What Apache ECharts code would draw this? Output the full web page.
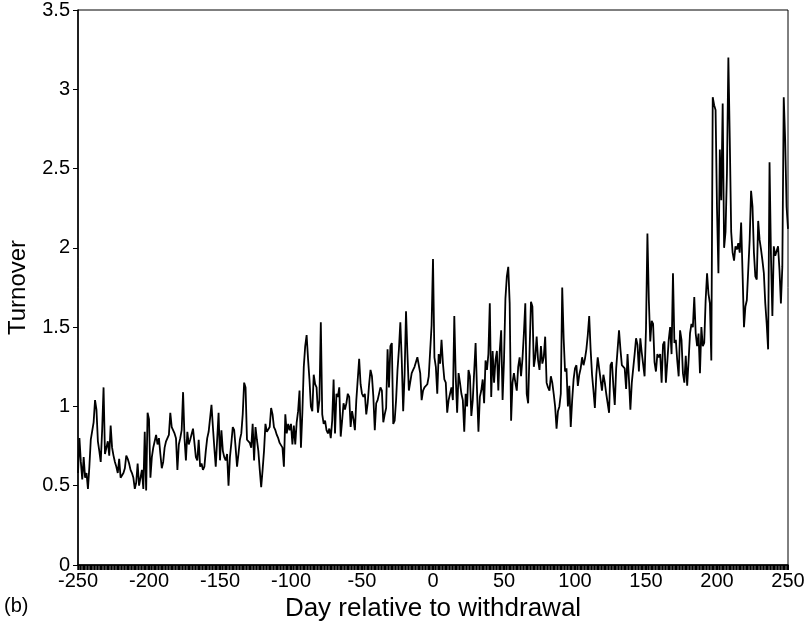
<!DOCTYPE html>
<html>
<head>
<meta charset="utf-8">
<script src="https://cdn.jsdelivr.net/npm/echarts@6/dist/echarts.min.js"></script>
<style>html,body{margin:0;padding:0;background:#fff}#c{width:810px;height:627px}</style>
</head>
<body>
<div id="c"></div>
<script>
// Day relative to withdrawal: first day
var firstDay = -250;
var xTicks = [-250, -200, -150, -100, -50, 0, 50, 100, 150, 200, 250];
var yTicks = [0, 0.5, 1, 1.5, 2, 2.5, 3, 3.5];
// Daily turnover, days -250 .. 250
var turnover = [
/* -250 */ 0.58,0.80,0.65,0.54,0.68,0.55,0.58,0.48,0.62,0.79,
/* -240 */ 0.78,0.90,1.04,0.98,0.78,0.72,0.65,0.85,1.12,0.70,
/* -230 */ 0.74,0.78,0.69,0.88,0.74,0.69,0.65,0.62,0.58,0.67,
/* -220 */ 0.55,0.54,0.58,0.61,0.69,0.67,0.64,0.60,0.58,0.55,
/* -210 */ 0.48,0.52,0.64,0.50,0.55,0.60,0.48,0.84,0.47,0.96,
/* -200 */ 0.92,0.55,0.68,0.74,0.74,0.82,0.76,0.80,0.70,0.61,
/* -190 */ 0.65,0.74,0.78,0.77,0.82,0.96,0.87,0.86,0.83,0.80,
/* -180 */ 0.60,0.76,0.80,0.85,1.09,0.80,0.66,0.84,0.76,0.79,
/* -170 */ 0.79,0.86,0.85,0.68,0.66,0.79,0.62,0.64,0.60,0.62,
/* -160 */ 0.72,0.80,0.84,0.85,1.01,0.87,0.74,0.62,0.79,0.96,
/* -150 */ 0.66,0.85,0.72,0.68,0.66,0.70,0.50,0.68,0.77,0.87,
/* -140 */ 0.85,0.74,0.62,0.70,0.79,0.83,0.95,1.15,1.12,0.79,
/* -130 */ 0.78,0.77,0.74,0.89,0.66,0.87,0.79,0.72,0.60,0.49,
/* -120 */ 0.60,0.72,0.89,0.84,0.85,0.87,0.99,0.95,0.87,0.85,
/* -110 */ 0.82,0.80,0.77,0.76,0.74,0.62,0.95,0.83,0.89,0.85,
/* -100 */ 0.89,0.76,0.88,0.76,0.90,0.97,1.10,0.74,0.96,1.25,
/*  -90 */ 1.38,1.45,1.30,1.17,1.00,0.97,1.20,1.14,1.12,0.96,
/*  -80 */ 1.04,1.53,0.95,0.89,0.91,0.85,0.83,0.86,0.80,0.91,
/*  -70 */ 1.17,0.83,1.08,1.06,1.12,0.81,0.91,1.02,0.98,1.02,
/*  -60 */ 1.08,1.06,0.87,0.97,0.92,0.85,1.04,1.04,1.30,1.14,
/*  -50 */ 1.08,1.06,1.08,0.95,1.02,1.14,1.23,1.19,1.06,0.85,
/*  -40 */ 1.02,1.04,1.04,1.12,1.10,0.90,0.95,0.99,1.36,1.12,
/*  -30 */ 1.38,1.40,0.89,0.91,1.04,1.23,1.36,1.53,1.29,0.97,
/*  -20 */ 1.20,1.60,1.33,1.10,1.10,1.21,1.23,1.25,1.28,1.31,
/*  -10 */ 1.30,1.21,1.04,1.10,1.12,1.13,1.14,1.19,1.35,1.51,
/*    0 */ 1.93,1.31,1.25,1.08,1.33,1.27,1.42,1.27,1.17,1.15,
/*   10 */ 0.96,1.04,1.08,1.12,1.04,1.57,1.19,0.96,1.21,1.15,
/*   20 */ 1.08,1.04,0.84,1.08,1.00,1.23,1.19,0.94,1.04,1.04,
/*   30 */ 1.40,1.10,0.84,1.06,1.10,1.17,1.02,1.29,1.23,1.33,
/*   40 */ 1.65,1.06,1.35,1.15,1.29,1.35,1.10,1.35,1.48,1.04,
/*   50 */ 1.29,1.68,1.82,1.88,1.65,0.91,1.15,1.21,1.15,1.10,
/*   60 */ 1.25,1.31,1.19,1.30,1.46,1.65,1.08,1.02,1.35,1.66,
/*   70 */ 1.63,1.25,1.31,1.44,1.29,1.23,1.38,1.27,1.31,1.44,
/*   80 */ 1.15,1.12,1.10,1.19,1.15,1.08,1.00,0.86,0.97,1.00,
/*   90 */ 1.08,1.75,1.43,1.22,1.24,1.00,1.13,0.87,1.04,1.17,
/*  100 */ 1.24,1.26,1.13,1.20,1.24,1.31,1.26,1.30,1.36,1.45,
/*  110 */ 1.57,1.36,1.20,1.10,0.99,1.20,1.31,1.24,1.24,1.10,
/*  120 */ 1.20,1.15,1.08,1.02,0.96,1.26,1.28,1.13,1.01,1.24,
/*  130 */ 1.36,1.48,1.36,1.26,1.26,1.24,1.11,1.33,1.17,0.98,
/*  140 */ 1.15,1.24,1.33,1.43,1.39,1.22,1.43,1.34,1.33,1.19,
/*  150 */ 1.49,2.09,1.67,1.41,1.54,1.52,1.28,1.22,1.33,1.31,
/*  160 */ 1.33,1.15,1.39,1.41,1.15,1.28,1.42,1.50,1.33,1.84,
/*  170 */ 1.40,1.42,1.29,1.19,1.48,1.42,1.21,1.15,1.32,1.13,
/*  180 */ 1.29,1.46,1.52,1.50,1.69,1.46,1.38,1.46,1.21,1.50,
/*  190 */ 1.38,1.40,1.67,1.84,1.71,1.65,1.29,2.95,2.90,2.87,
/*  200 */ 2.25,1.84,2.62,2.30,2.91,2.00,2.10,2.47,3.20,2.68,
/*  210 */ 2.10,1.97,1.92,2.01,1.99,2.03,1.97,2.16,1.84,1.50,
/*  220 */ 1.63,1.67,1.86,2.05,2.36,2.26,1.97,1.82,1.80,2.17,
/*  230 */ 2.05,1.99,1.92,1.84,1.65,1.52,1.36,2.54,1.95,1.57,
/*  240 */ 2.01,1.95,1.95,2.01,1.86,1.65,1.88,2.95,2.68,2.26,
/*  250 */ 2.12
];

var FONT = 'Liberation Sans, Arial, Helvetica, sans-serif';
var days = turnover.map(function (v, i) { return firstDay + i; });
var seriesData = turnover.map(function (v, i) { return [days[i], v]; });

var chart = echarts.init(document.getElementById('c'), null, {renderer: 'canvas'});
chart.setOption({
  animation: false,
  backgroundColor: '#fff',
  grid: {left: 78, right: 22, top: 10, bottom: 62, containLabel: false, outerBoundsMode: 'none',
         show: true, borderColor: '#000', borderWidth: 1, backgroundColor: 'transparent'},
  xAxis: [{
    type: 'value',
    min: xTicks[0], max: xTicks[xTicks.length - 1], interval: 50,
    name: 'Day relative to withdrawal', nameLocation: 'middle', nameGap: 30,
    nameTextStyle: {fontFamily: FONT, fontSize: 26, color: '#000', verticalAlign: 'top', padding: [0, 0, 0, 0]},
    axisLine: {show: true, onZero: false, lineStyle: {color: '#000', width: 1.5}},
    axisTick: {show: true, length: 5, lineStyle: {color: '#000', width: 1}},
    axisLabel: {fontFamily: FONT, fontSize: 20, color: '#000', margin: 6},
    splitLine: {show: false}
  }, {
    // one tick mark per day along the bottom axis
    type: 'category', position: 'bottom', data: days, boundaryGap: false,
    axisLine: {show: false, onZero: false},
    axisTick: {show: true, interval: 0, length: 5, lineStyle: {color: '#000', width: 1.5}},
    axisLabel: {show: false, interval: 0},
    splitLine: {show: false}
  }],
  yAxis: {
    type: 'value',
    min: yTicks[0], max: yTicks[yTicks.length - 1], interval: 0.5,
    name: 'Turnover', nameLocation: 'middle', nameGap: 48, nameRotate: 90,
    nameTextStyle: {fontFamily: FONT, fontSize: 24, color: '#000'},
    axisLine: {show: true, onZero: false, lineStyle: {color: '#000', width: 1.5}},
    axisTick: {show: true, length: 5, lineStyle: {color: '#000'}},
    axisLabel: {fontFamily: FONT, fontSize: 20, color: '#000', margin: 8},
    splitLine: {show: false}
  },
  graphic: [{type: 'text', left: 4, top: 596, style: {text: '(b)', font: '20px ' + FONT, fill: '#000'}}],
  series: [{
    type: 'line', xAxisIndex: 0, data: seriesData, showSymbol: false, symbol: 'none',
    lineStyle: {color: '#000', width: 1.8}, clip: true
  }]
});
</script>
</body>
</html>
